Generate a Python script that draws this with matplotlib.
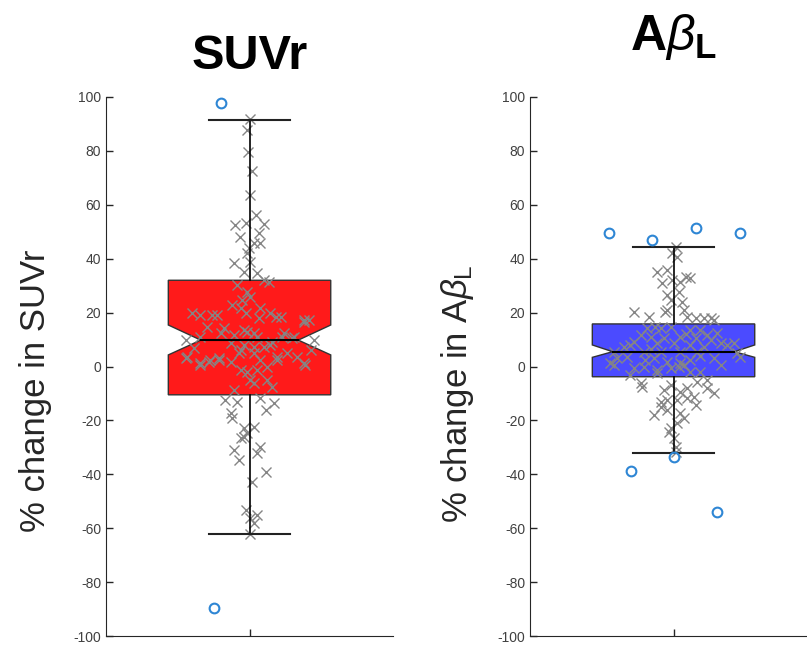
import matplotlib.pyplot as plt
from matplotlib.patches import Polygon

plt.rcParams['font.family'] = ['Liberation Sans', 'DejaVu Sans']
plt.rcParams['mathtext.fontset'] = 'custom'
plt.rcParams['mathtext.rm'] = 'Liberation Sans'
plt.rcParams['mathtext.it'] = 'Liberation Sans:italic'
plt.rcParams['mathtext.bf'] = 'Liberation Sans:bold'
plt.rcParams['axes.unicode_minus'] = False

# box statistics (percent change)
suvr_stats = dict(q1=-10.5, med=9.8, q3=32.0, cilo=4.3, cihi=15.4, whislo=-62.3, whishi=91.5)
abeta_stats = dict(q1=-3.8, med=5.5, q3=15.8, cilo=3.4, cihi=8.0, whislo=-32.0, whishi=44.5)

# outliers and their horizontal jitter
suvr_fliers = [97.8, -89.5]
suvr_fliers_jit = [-0.101, -0.125]
abeta_fliers = [49.4, 46.8, 51.5, 49.4, -38.7, -33.5, -54.1]
abeta_fliers_jit = [-0.226, -0.074, 0.080, 0.231, -0.148, 0.001, 0.153]

# individual subjects (value, jitter)
suvr_vals = [92.0, 87.8, 79.7, 72.7, 63.6, 56.2,
             52.5, 53.1, 52.9, 49.4, 48.2, 45.7, 45.7, 43.9, 42.0, 38.3, 38.9, 35.2, 34.6, 32.1,
             31.5, 30.2, 27.8, 25.9, 24.7, 22.8, 21.6, 21.6, 19.7, 19.7, 19.7, 19.1, 19.1, 19.1,
             18.5, 18.5, 17.9, 17.3, 17.3,
             14.2, 14.8, 16.6, 13.5, 12.3, 11.7, 11.1, 9.8, 9.2, 11.1, 10.5, 9.8, 3.6, 0.6, 2.4,
             3.0, 1.8, 6.1, 7.3, 7.3, 3.6, 4.9, 3.6, 0.6, 6.1, -1.3,
             12.3, 12.9, 12.3, 11.1, 11.1, 6.8, 8.6, 8.0, 8.0, 4.9, 4.9, 1.2, 3.0, 1.2, 1.8, 2.4,
             2.4, 2.4, -1.9, -1.3, -0.1, -5.0, -6.2, -5.0, -7.5, -8.7, -12.4, -13.1, -11.8, -13.7,
             -16.1, -17.4, -19.2, -22.9, -22.3,
             -24.8, -26.6, -26.0, -31.0, -29.8, -32.2, -34.7, -39.0, -42.7, -53.2, -56.3, -55.1,
             -58.2, -62.3]
suvr_jit = [0.003, -0.008, -0.006, 0.009, 0.001, 0.024,
            -0.049, -0.014, 0.050, 0.032, -0.034, 0.015, 0.038, -0.002, -0.008, -0.055, 0.003,
            -0.020, 0.027, 0.050, 0.067, -0.043, -0.008, 0.003, -0.025, -0.060, -0.031, 0.038,
            -0.014, 0.073, -0.200, -0.171, -0.130, -0.113, 0.091, 0.108, 0.032, 0.189, 0.207,
            -0.090, -0.147, 0.189, -0.020, 0.015, -0.055, -0.171, -0.223, 0.079, 0.114, 0.149,
            0.224, -0.217, -0.171, -0.136, -0.107, -0.066, -0.031, 0.015, 0.050, 0.097, 0.131,
            0.166, 0.195, 0.213, -0.031,
            -0.101, -0.008, 0.120, 0.154, 0.027, -0.194, -0.066, -0.020, 0.073, -0.037, 0.015,
            0.189, -0.223, -0.171, -0.142, -0.107, 0.038, 0.097, -0.008, 0.027, 0.062, 0.003,
            0.015, 0.062, 0.079, -0.055, -0.084, -0.043, 0.038, 0.085, 0.056, -0.066, -0.060,
            -0.020, 0.015,
            -0.008, -0.031, -0.020, -0.055, 0.038, 0.027, -0.037, 0.056, 0.009, -0.014, 0.003,
            0.027, 0.015, 0.003]

abeta_vals = [44.5, 42.0, 40.7, 35.2, 35.8, 30.9, 32.1, 31.5, 33.3, 32.7, 26.5, 24.7, 27.8, 24.0,
              21.0, 20.3, 20.3, 18.5, 21.0, 18.5, 17.9, 17.9, 17.3, 17.9,
              14.2, 14.2, 14.8, 13.5, 13.5, 11.7, 11.1, 10.5, 11.1, 10.5, 11.7, 12.3, 9.2, 7.3,
              8.0, 8.6, 8.6, 8.0, 7.3, 8.6, 8.0, 8.6, 5.5, 5.5, 5.5, 5.5, 5.5, 4.9, 3.0, 3.6,
              2.4, 3.0, 1.8, 1.2, 2.4, 3.0, -0.7, -0.1, -1.3, -0.7, -0.1, 0.6, 1.2, -6.2, -6.9,
              -5.6, -5.0, -2.5, -1.9, 3.6, 0.6,
              14.8, 12.0, 10.0, 6.5, 4.0, 0.5, -2.0, -3.0,
              -7.5, -8.7, -9.3, -11.2, -9.9, -8.1, -8.1, -12.4, -12.4, -11.8, -14.9, -14.3,
              -18.0, -17.4, -19.2, -21.1, -22.9, -24.2, -26.6, -29.8, -31.6, -16.1, -13.1]
abeta_jit = [0.007, -0.005, 0.013, -0.057, -0.022, -0.039, -0.005, 0.024, 0.042, 0.059, -0.022,
             -0.010, 0.018, 0.030, -0.022, -0.028, -0.138, -0.086, 0.036, 0.048, 0.106, 0.129,
             0.140, 0.077,
             -0.092, -0.045, -0.010, 0.059, 0.094, -0.115, -0.080, -0.034, 0.024, 0.077, 0.117,
             0.152, -0.138, -0.173, -0.150, -0.057, 0.001, 0.059, 0.106, 0.164, 0.187, 0.210,
             -0.208, -0.103, -0.045, 0.024, 0.083, 0.222, -0.196, -0.161, -0.098, -0.069,
             -0.022, 0.024, 0.059, 0.140, -0.138, -0.103, -0.057, -0.010, 0.018, 0.036, -0.220,
             -0.115, -0.010, 0.083, 0.117, -0.057, 0.094, 0.233, -0.208,
             -0.063, 0.042, 0.129, -0.080, 0.094, 0.164, 0.059, -0.150,
             -0.109, -0.034, 0.024, 0.071, 0.140, 0.048, 0.117, -0.022, 0.013, 0.048, -0.045,
             0.077, -0.069, 0.024, 0.036, 0.013, -0.010, -0.016, 0.001, 0.007, 0.007, -0.022,
             -0.045]

axis_color = '#262626'


def notched_box(ax, st, vals, jit, fliers, fl_jit, color, notch_ratio):
    pos, hw = 1.0, 0.283
    nw = hw * notch_ratio
    x0, x1 = pos - hw, pos + hw
    verts = [(x0, st['q1']), (x1, st['q1']), (x1, st['cilo']), (pos + nw, st['med']),
             (x1, st['cihi']), (x1, st['q3']), (x0, st['q3']), (x0, st['cihi']),
             (pos - nw, st['med']), (x0, st['cilo'])]
    ax.add_patch(Polygon(verts, closed=True, facecolor=color, edgecolor='#333333',
                         linewidth=1.0, zorder=1))
    ax.plot([pos + j for j in jit], vals, 'x', color='#858585', ms=7, mew=1.0, zorder=2)
    ax.plot([pos, pos], [st['q3'], st['whishi']], color='black', lw=1.2, zorder=3)
    ax.plot([pos, pos], [st['q1'], st['whislo']], color='black', lw=1.2, zorder=3)
    for w in (st['whislo'], st['whishi']):
        ax.plot([pos - hw / 2, pos + hw / 2], [w, w], color='#222222', lw=1.5, zorder=3)
    ax.plot([pos - nw, pos + nw], [st['med'], st['med']], color='black', lw=1.5, zorder=3)
    ax.plot([pos + j for j in fl_jit], fliers, 'o', mfc='none', mec='#2E86D4', ms=7,
            mew=1.5, zorder=4)


fig = plt.figure(figsize=(8.07, 6.51), dpi=100)
ax1 = fig.add_axes([0.1314, 0.023, 0.3556, 0.828])
ax2 = fig.add_axes([0.6568, 0.023, 0.3556, 0.828])

notched_box(ax1, suvr_stats, suvr_vals, suvr_jit, suvr_fliers, suvr_fliers_jit, '#FF1A1A', 0.6)
notched_box(ax2, abeta_stats, abeta_vals, abeta_jit, abeta_fliers, abeta_fliers_jit, '#4B4BFF', 0.75)

for ax in (ax1, ax2):
    ax.set_xlim(0.5, 1.5)
    ax.set_ylim(-100, 100)
    ax.set_xticks([1])
    ax.set_xticklabels([])
    ax.set_yticks(range(-100, 101, 20))
    ax.tick_params(direction='in', length=5, width=1, colors=axis_color, labelsize=10)
    ax.tick_params(axis='y', labelcolor='#404040')
    for s in ('top', 'right'):
        ax.spines[s].set_visible(False)
    for s in ('left', 'bottom'):
        ax.spines[s].set_color(axis_color)

ax1.set_title('SUVr', fontsize=35, fontweight='bold', pad=20)
ax2.set_title(r'$\mathbf{A}\beta_\mathbf{L}$', fontsize=36, pad=34)
ax1.set_ylabel('% change in SUVr', fontsize=25, color=axis_color)
ax2.set_ylabel(r'% change in A$\beta_\mathrm{L}$', fontsize=25, color=axis_color)
# label coords have to come after set_ylabel, which resets y to the centre
ax1.yaxis.set_label_coords(-0.19, 0.455)
ax2.yaxis.set_label_coords(-0.19, 0.45)

fig.savefig('out.png', dpi=100)
